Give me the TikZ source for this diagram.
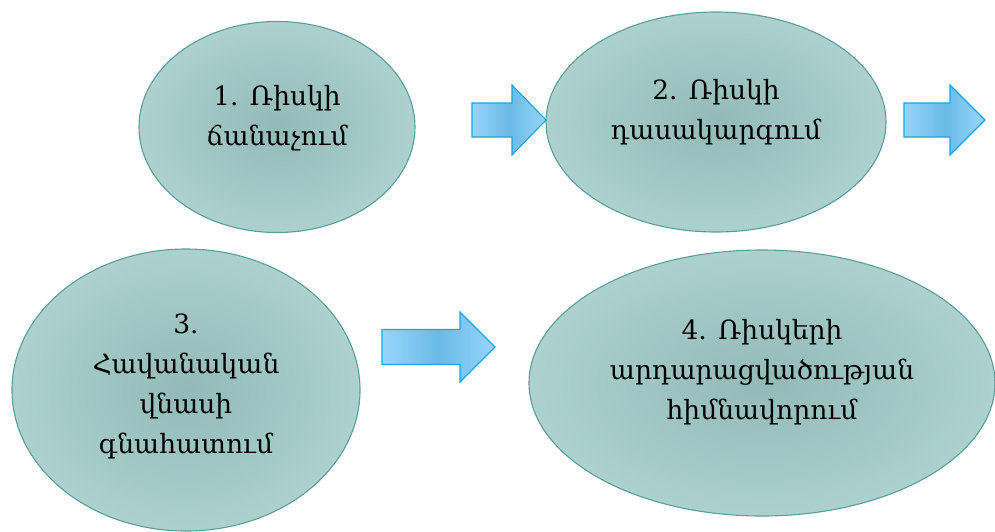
\documentclass[tikz,border=0pt]{standalone}
\usepackage{fontspec}
\setmainfont{DejaVu Serif}
\usetikzlibrary{shapes.geometric}
\definecolor{ellin}{HTML}{92BAB8}
\definecolor{ellout}{HTML}{ACD1CF}
\definecolor{elldraw}{HTML}{5E9C98}
\definecolor{arrmid}{HTML}{6ABAE6}
\definecolor{arrside}{HTML}{97D5FB}
\definecolor{arrdraw}{HTML}{1CA3E3}
\tikzset{
  stage/.style={ellipse, draw=elldraw, line width=1.1pt, inner color=ellin, outer color=ellout, inner sep=0pt},
  stagetext/.style={align=center, font=\fontsize{26.5}{40}\selectfont, inner sep=0pt},
  blockarrow/.style={draw=arrdraw, line width=1.1pt, left color=arrside, right color=arrside, middle color=arrmid, line join=miter}
}
\begin{document}
\begin{tikzpicture}[x=1pt,y=-1pt]
\useasboundingbox (0,0) rectangle (995,531);
\begin{scope}
\clip (0,0) rectangle (995,531);
\node[stage, minimum width=276pt, minimum height=211pt] (s1) at (277,127) {};
\node[stage, minimum width=340pt, minimum height=220pt] (s2) at (716,122) {};
\node[stage, minimum width=348pt, minimum height=282pt] (s3) at (186,390) {};
\node[stage, minimum width=466pt, minimum height=266pt] (s4) at (762,383) {};
\end{scope}
\node[stagetext] (t1) at ([yshift=9pt]s1.center) {1. Ռիսկի\\ճանաչում};
\node[stagetext] (t2) at ([yshift=10pt]s2.center) {2. Ռիսկի\\դասակարգում};
\node[stagetext] (t3) at ([yshift=4pt]s3.center) {3.\\Հավանական\\վնասի\\գնահատում};
\node[stagetext] (t4) at ([yshift=11pt]s4.center) {4. Ռիսկերի\\արդարացվածության\\հիմնավորում};
% block arrows
\coordinate (a1) at (472,120);
\coordinate (a2) at (904,120);
\coordinate (a3) at (382,347);
\draw[blockarrow] (a1) ++(0,-17) -- ++(40,0) -- ++(0,-18) -- ++(34,35) -- ++(-34,35) -- ++(0,-18) -- ++(-40,0) -- cycle;
\draw[blockarrow] (a2) ++(0,-17) -- ++(46,0) -- ++(0,-18) -- ++(35,35) -- ++(-35,35) -- ++(0,-18) -- ++(-46,0) -- cycle;
\draw[blockarrow] (a3) ++(0,-17.5) -- ++(78,0) -- ++(0,-17.5) -- ++(35,35) -- ++(-35,35) -- ++(0,-17.5) -- ++(-78,0) -- cycle;
\end{tikzpicture}
\end{document}
